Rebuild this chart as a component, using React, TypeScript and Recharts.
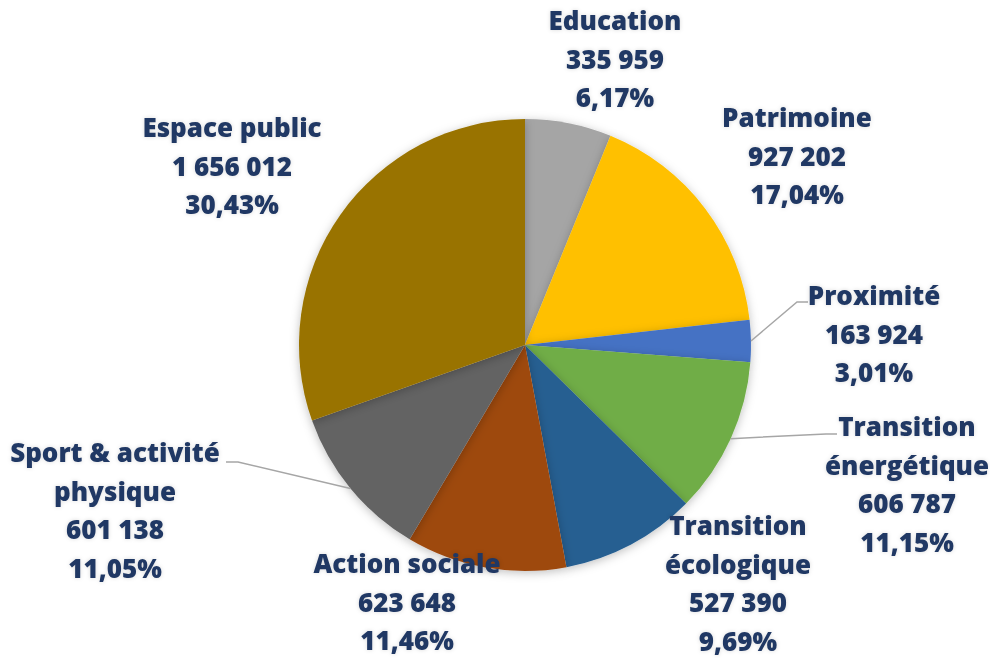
import React from 'react';
import { PieChart, Pie, Cell } from 'recharts';

const categories = [
  'Education',
  'Patrimoine',
  'Proximité',
  'Transition\nénergétique',
  'Transition\nécologique',
  'Action sociale',
  'Sport & activité\nphysique',
  'Espace public',
];
const values = [335959, 927202, 163924, 606787, 527390, 623648, 601138, 1656012];
const colors = ['#A5A5A5', '#FFC000', '#4472C4', '#70AD47', '#255E91', '#9E480E', '#636363', '#997300'];

// label anchor offsets from pie centre (style)
const labelOffsets: [number, number][] = [
  [90, -325],
  [272, -228],
  [349, -50],
  [382, 81],
  [213, 180],
  [-118, 218],
  [-410, 107],
  [-293, -218],
];
// leader lines: [elbow, end] offsets from centre, or null
const leaders: ([number, number][] | null)[] = [
  null,
  null,
  [[272, -43], [283, -43]],
  [[301, 89], [312, 89]],
  null,
  null,
  [[-287, 117], [-299, 117]],
  null,
];

const total = values.reduce((a, b) => a + b, 0);
const data = categories.map((name, i) => ({ name, value: values[i] }));

const fmtNum = (v: number) => String(v).replace(/\B(?=(\d{3})+(?!\d))/g, ' ');
const fmtPct = (v: number) => ((v / total) * 100).toFixed(2).replace('.', ',') + '%';

const RAD = Math.PI / 180;
const LINE_H = 38.5;

const renderLabel = (props: any) => {
  const { cx, cy, midAngle, outerRadius, index } = props;
  const [dx, dy] = labelOffsets[index];
  const lines = [...categories[index].split('\n'), fmtNum(values[index]), fmtPct(values[index])];
  const x = cx + dx;
  const y0 = cy + dy;
  const lead = leaders[index];
  let path = null;
  if (lead) {
    const sx = cx + outerRadius * Math.cos(-midAngle * RAD);
    const sy = cy + outerRadius * Math.sin(-midAngle * RAD);
    const d = `M${sx},${sy}L${cx + lead[0][0]},${cy + lead[0][1]}L${cx + lead[1][0]},${cy + lead[1][1]}`;
    path = <path d={d} stroke="#A6A6A6" strokeWidth={1.5} fill="none" />;
  }
  return (
    <g key={`lbl-${index}`}>
      {path}
      <text
        x={x}
        y={y0}
        textAnchor="middle"
        fill="#203864"
        fontFamily="'Open Sans', sans-serif"
        fontWeight={800}
        fontSize={26}
        style={{ filter: 'drop-shadow(0 0 2px rgba(0,0,0,0.15))' }}
      >
        {lines.map((t, k) => (
          <tspan key={k} x={x} y={y0 + k * LINE_H} dominantBaseline="central">
            {t}
          </tspan>
        ))}
      </text>
    </g>
  );
};

export default function App() {
  return (
    <div style={{ position: 'absolute', left: 0, top: 0, width: 990, height: 658, background: '#fff' }}>
      <PieChart width={990} height={658} margin={{ top: 0, right: 0, bottom: 0, left: 0 }}>
        <defs>
          <filter id="pieShadow" x="-20%" y="-20%" width="140%" height="140%">
            <feDropShadow dx="0" dy="2" stdDeviation="5" floodColor="#000" floodOpacity="0.25" />
          </filter>
        </defs>
        <Pie
          data={data}
          dataKey="value"
          nameKey="name"
          cx={525}
          cy={345}
          outerRadius={226}
          startAngle={90}
          endAngle={-270}
          stroke="none"
          isAnimationActive={false}
          label={renderLabel}
          labelLine={false}
        >
          {data.map((d, i) => (
            <Cell key={d.name} fill={colors[i]} style={{ filter: 'url(#pieShadow)' }} />
          ))}
        </Pie>
      </PieChart>
    </div>
  );
}
